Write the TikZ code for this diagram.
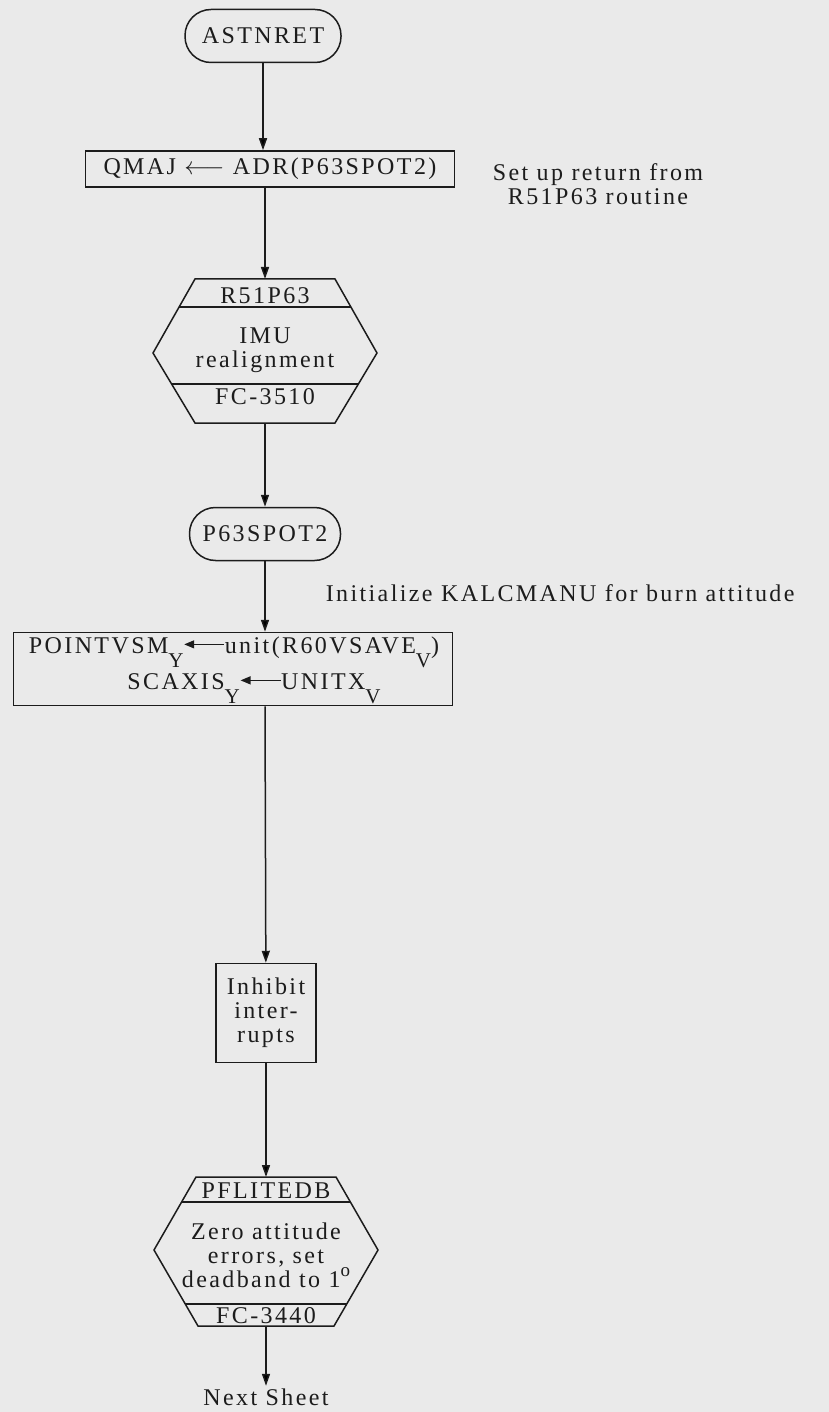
\documentclass[tikz,border=0pt]{standalone}
\usepackage{fontspec}
\setmainfont{Liberation Serif}[LetterSpace=10]
\usetikzlibrary{positioning,calc,arrows.meta}

\definecolor{paper}{RGB}{234,234,234}
\definecolor{ink}{RGB}{28,28,28}

% lowered subscript and solid-headed assignment arrow
\newcommand{\lowsub}[1]{\raisebox{-0.6em}{\fontsize{21}{21}\selectfont #1}}
\newcommand{\solidleft}{\tikz[baseline=-0.36em]\draw[line width=1.3pt,draw=ink,{Triangle[length=10pt,width=8pt]}-] (0pt,0pt) -- (40pt,0pt);}
\newcommand{\degsign}{\raisebox{0.45em}{\fontsize{19}{19}\selectfont o}}

\tikzset{
  term/.style={draw, rounded corners=26pt, minimum height=53pt, inner sep=0},
  procbox/.style={draw, rectangle, inner sep=0},
  flow/.style={-{Triangle[length=12pt,width=8pt]}},
  txt/.style={inner sep=0, anchor=base},
}

\begin{document}
\begin{tikzpicture}[x=1pt, y=-1pt, line width=1.5pt, draw=ink, text=ink,
    font=\fontsize{24}{24}\selectfont]
    \fill[paper] (0,0) rectangle (829,1412);
    \useasboundingbox (0,0) rectangle (829,1412);

    % Entry
    \node[term, minimum width=156pt] (astnret) at (263,36) {ASTNRET};

    % Return address
    \node[procbox, minimum width=369pt, minimum height=36pt] (qmaj) at (270,169)
        {QMAJ $\longleftarrow$ ADR(P63SPOT2)};
    \node[align=center, inner sep=0] (setup) at (598,184)
        {Set up return from\\R51P63 routine};

    % R51P63 hexagon
    \coordinate (r51top) at (265,279);
    \coordinate (r51bot) at (265,423);
    \draw (195,279) -- (335,279) -- (377,353) -- (335,423) -- (195,423) -- (153,353) -- cycle;
    \draw (179,307) -- (351,307);
    \draw (172,384) -- (358,384);
    \node[txt] (r51name) at (265,303) {R51P63};
    \node[align=center, inner sep=0] (imu) at (265,350) {IMU\\realignment};
    \node[txt] (fc3510) at (265,404) {FC-3510};

    % Re-entry
    \node[term, minimum width=151pt] (p63spot2) at (265,534) {P63SPOT2};
    \node[txt, anchor=base west] (kalc) at (325,601) {Initialize KALCMANU for burn attitude};

    % Attitude vectors
    \node[procbox, minimum width=439pt, minimum height=73pt] (pointvsm) at (233,669) {};
    \node[txt] (pointline) at (234,653)
        {POINTVSM\lowsub{Y}\solidleft unit(R60VSAVE\lowsub{V})};
    \node[txt] (scaxline) at (254,689)
        {SCAXIS\lowsub{Y}\solidleft UNITX\lowsub{V}};

    \node[procbox, minimum width=100pt, minimum height=99pt, align=center] (inhibit)
        at (266,1013) {Inhibit\\inter-\\rupts};

    % PFLITEDB hexagon
    \coordinate (pfltop) at (266,1177);
    \coordinate (pflbot) at (266,1326);
    \draw (196,1177) -- (336,1177) -- (378,1250) -- (334,1326) -- (198,1326) -- (154,1250) -- cycle;
    \draw (181,1202) -- (351,1202);
    \draw (185,1304) -- (347,1304);
    \node[txt] (pfliteName) at (266,1198) {PFLITEDB};
    \node[align=center, inner sep=0] (zeroerr) at (266,1255)
        {Zero attitude\\errors, set\\deadband to 1\degsign};
    \node[txt] (fc3440) at (266,1323) {FC-3440};

    \node[inner sep=2pt] (nextsheet) at (266,1397) {Next Sheet};

    % Flow lines
    \draw[flow] (astnret.south) -- (astnret.south |- qmaj.north);
    \draw[flow] (r51top |- qmaj.south) -- (r51top);
    \draw[flow] (r51bot) -- (p63spot2);
    \draw[flow] (p63spot2) -- (p63spot2 |- pointvsm.north);
    \draw[flow] (p63spot2 |- pointvsm.south) -- (inhibit);
    \draw[flow] (inhibit) -- (pfltop);
    \draw[flow] (pflbot) -- (nextsheet);
\end{tikzpicture}
\end{document}
